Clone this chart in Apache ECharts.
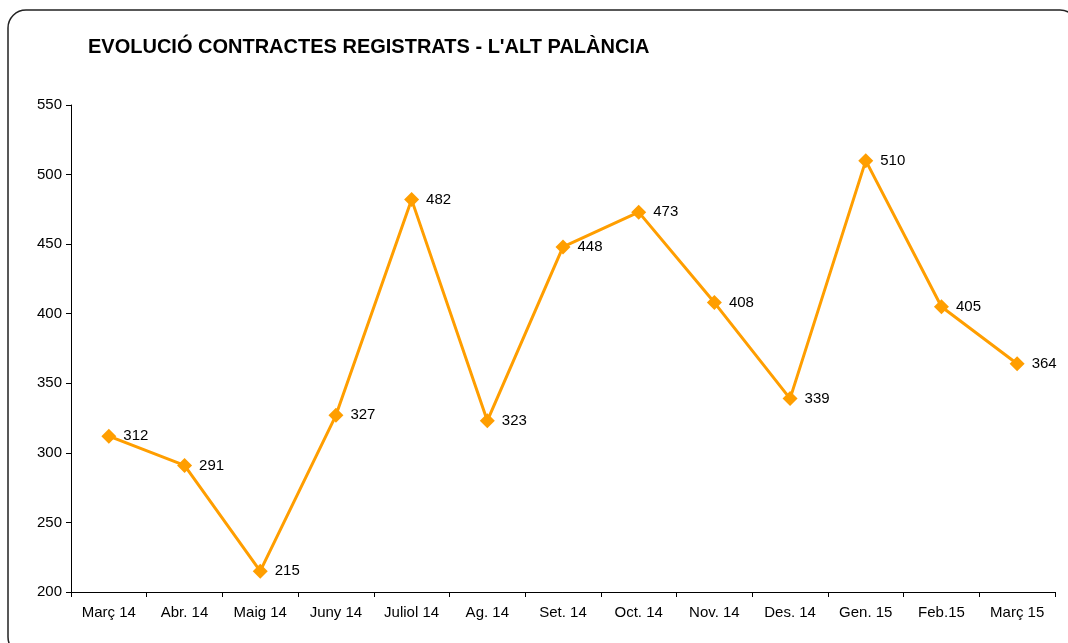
<!DOCTYPE html>
<html>
<head>
<meta charset="utf-8">
<script src="https://cdn.jsdelivr.net/npm/echarts@6/dist/echarts.min.js"></script>
<style>
  html, body { margin: 0; padding: 0; background: #fff; }
  #chart { width: 1068px; height: 643px; }
</style>
</head>
<body>
<div id="chart"></div>
<script>
// dades
const months = ['Març 14', 'Abr. 14', 'Maig 14', 'Juny 14', 'Juliol 14', 'Ag. 14', 'Set. 14',
  'Oct. 14', 'Nov. 14', 'Des. 14', 'Gen. 15', 'Feb.15', 'Març 15'];
const contractes = [312, 291, 215, 327, 482, 323, 448, 473, 408, 339, 510, 405, 364];
const yTicks = [200, 250, 300, 350, 400, 450, 500, 550];

const chart = echarts.init(document.getElementById('chart'));

const option = {
  animation: false,
  title: {
    text: "EVOLUCIÓ CONTRACTES REGISTRATS - L'ALT PALÀNCIA",
    left: 83,
    top: 32,
    textStyle: { fontFamily: 'Liberation Sans, Arial', fontSize: 20, fontWeight: 'bold', color: '#000' }
  },
  graphic: [{
    type: 'rect',
    shape: { x: 8, y: 10, width: 1070, height: 645, r: 18 },
    style: { fill: 'none', stroke: '#222', lineWidth: 1.5 },
    silent: true
  }],
  grid: { left: 71, right: 13, top: 105, bottom: 51 },
  xAxis: {
    type: 'category',
    data: months,
    boundaryGap: true,
    axisLine: { lineStyle: { color: '#000', width: 1 } },
    axisTick: { show: true, length: 5, lineStyle: { color: '#000' } },
    axisLabel: { color: '#000', fontFamily: 'Liberation Sans, Arial', fontSize: 15, margin: 13, interval: 0 }
  },
  yAxis: {
    type: 'value',
    min: yTicks[0],
    max: yTicks[yTicks.length - 1],
    interval: 50,
    axisLine: { show: true, lineStyle: { color: '#000', width: 1 } },
    axisTick: { show: true, length: 5, lineStyle: { color: '#000' } },
    splitLine: { show: false },
    axisLabel: { color: '#000', fontFamily: 'Liberation Sans, Arial', fontSize: 15, margin: 9 }
  },
  series: [{
    type: 'line',
    data: contractes,
    symbol: 'diamond',
    symbolSize: 15,
    itemStyle: { color: '#FF9E00' },
    lineStyle: { color: '#FF9E00', width: 3 },
    label: {
      show: true,
      position: 'right',
      distance: 7,
      color: '#000',
      fontFamily: 'Liberation Sans, Arial',
      fontSize: 15
    }
  }]
};

chart.setOption(option);
</script>
</body>
</html>
